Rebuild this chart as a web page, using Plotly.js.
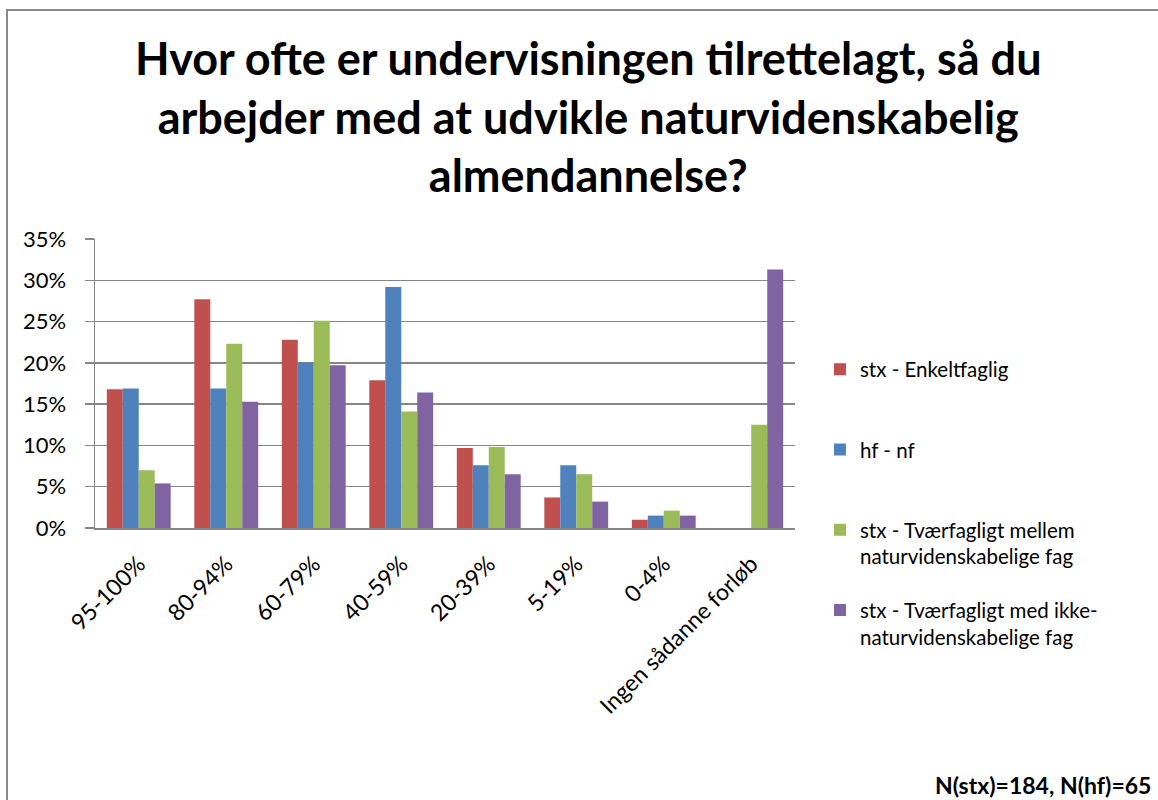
<!DOCTYPE html>
<html>
<head>
<meta charset="utf-8">
<script src="https://cdn.plot.ly/plotly-3.0.1.min.js"></script>
<style>
  html, body { margin: 0; padding: 0; background: #ffffff; overflow: hidden; }
  #frame { position: absolute; left: 6px; top: 9px; width: 1300px; height: 900px; border: 2px solid #8a8a8a; box-sizing: border-box; }
  #chart { position: absolute; left: 0; top: 0; width: 1158px; height: 800px; }
</style>
</head>
<body>
<div id="frame"></div>
<div id="chart"></div>
<script>
const categories = ["95-100%", "80-94%", "60-79%", "40-59%", "20-39%", "5-19%", "0-4%", "Ingen sådanne forløb"];
const stxEnkeltfaglig = [0.168, 0.277, 0.228, 0.179, 0.097, 0.037, 0.010, 0];
const hfNf            = [0.169, 0.169, 0.200, 0.292, 0.076, 0.076, 0.015, 0];
const stxTvaerNat     = [0.070, 0.223, 0.251, 0.141, 0.098, 0.065, 0.021, 0.125];
const stxTvaerIkke    = [0.054, 0.153, 0.197, 0.164, 0.065, 0.032, 0.015, 0.313];
const seriesNames = [
  "stx - Enkeltfaglig<br> ",
  "hf - nf<br> ",
  "stx - Tværfagligt mellem<br>naturvidenskabelige fag",
  "stx - Tværfagligt med ikke-<br>naturvidenskabelige fag"
];
const seriesColors = ["#C0504D", "#4F81BD", "#9BBB59", "#8064A2"];
const yTickVals = [0, 0.05, 0.10, 0.15, 0.20, 0.25, 0.30, 0.35];
const titleText = "Hvor ofte er undervisningen tilrettelagt, så du<br>arbejder med at udvikle naturvidenskabelig<br>almendannelse?";
const noteText = "N(stx)=184, N(hf)=65";

const FONT = "Lato, 'Open Sans', sans-serif";
const allValues = [stxEnkeltfaglig, hfNf, stxTvaerNat, stxTvaerIkke];

const traces = allValues.map((vals, i) => ({
  type: "bar",
  name: seriesNames[i],
  x: categories,
  y: vals,
  marker: { color: seriesColors[i] },
  legendgroup: "g" + i,
  hoverinfo: "x+y+name"
}));

const layout = {
  width: 1158,
  height: 800,
  paper_bgcolor: "rgba(0,0,0,0)",
  plot_bgcolor: "rgba(0,0,0,0)",
  margin: { l: 95, r: 363, t: 239, b: 272, pad: 0 },
  barmode: "group",
  bargap: 0.27,
  bargroupgap: 0,
  font: { family: FONT, size: 20, color: "#000000" },
  title: {
    text: titleText,
    font: { family: FONT, size: 45, color: "#000000", weight: "bold" },
    xref: "container", yref: "container",
    x: 0.508, xanchor: "center",
    y: 0.906, yanchor: "middle"
  },
  xaxis: {
    type: "category",
    tickangle: -45,
    showline: true, linecolor: "#868686", linewidth: 1.5,
    showgrid: false,
    ticks: "",
    tickfont: { family: FONT, size: 23, color: "#000000" },
    ticklabelstandoff: 12,
    fixedrange: true
  },
  yaxis: {
    range: [0, 0.35],
    tickvals: yTickVals,
    tickformat: ".0%",
    showline: true, linecolor: "#868686", linewidth: 1.5,
    showgrid: true, gridcolor: "#868686", gridwidth: 1.5,
    zeroline: false,
    ticks: "outside", ticklen: 9, tickcolor: "#868686", tickwidth: 1.5,
    tickfont: { family: FONT, size: 22, color: "#000000" },
    ticklabelstandoff: 14,
    fixedrange: true
  },
  legend: {
    x: 1.0357, xanchor: "left",
    y: 0.618, yanchor: "top",
    valign: "top",
    tracegroupgap: 24,
    maxheight: 600,
    font: { family: FONT, size: 20.5, color: "#000000" },
    bgcolor: "rgba(0,0,0,0)"
  },
  annotations: [{
    text: "<b>" + noteText + "</b>",
    xref: "paper", yref: "paper",
    x: 1.197, xanchor: "left",
    y: -0.889, yanchor: "middle",
    showarrow: false,
    font: { family: FONT, size: 23, color: "#000000" }
  }]
};

Plotly.newPlot("chart", traces, layout, { displayModeBar: false, staticPlot: true });
</script>
</body>
</html>
